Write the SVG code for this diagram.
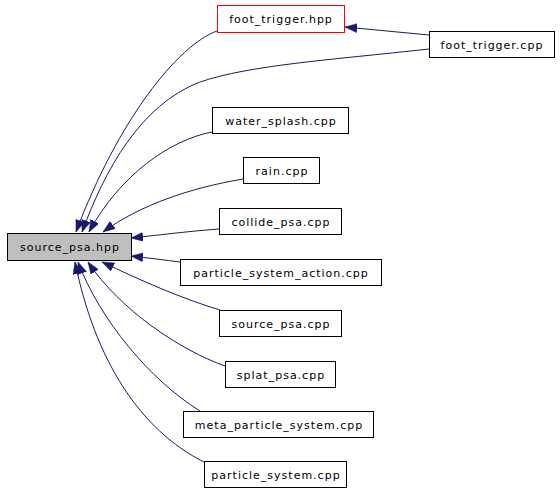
<svg xmlns="http://www.w3.org/2000/svg" width="560" height="493" viewBox="0 0 560 493">
<style>
.n rect{fill:#fff;stroke:#000;stroke-width:1}
.n text{font-family:"DejaVu Sans",sans-serif;font-size:11px;letter-spacing:1px;text-anchor:middle;fill:#000}
.e path{fill:none;stroke:#191970;stroke-width:1}
</style>
<defs>
<marker id="ah" markerUnits="userSpaceOnUse" markerWidth="13" markerHeight="10" refX="12" refY="4.5" orient="auto">
<path d="M0,0 L12,4.5 L0,9 z" fill="#191970" stroke="#191970" stroke-width="0.5"/>
</marker>
</defs>
<rect width="560" height="493" fill="#fff"/>
<g id="edges" class="e">
<path marker-end="url(#ah)" d="M217,31 C178,45 118,120 76,232"/>
<path marker-end="url(#ah)" d="M429,35 L345,27"/>
<path marker-end="url(#ah)" d="M429,49 C330,60 250,65 200,82 C140,105 105,170 82,232"/>
<path marker-end="url(#ah)" d="M212,132 C170,140 120,175 89,232"/>
<path marker-end="url(#ah)" d="M243,179 C190,188 140,205 103,232"/>
<path marker-end="url(#ah)" d="M219,229 C190,231 160,235 131,238"/>
<path marker-end="url(#ah)" d="M180,262 C165,260 148,258 131,256"/>
<path marker-end="url(#ah)" d="M220,310 C180,298 140,280 102,262"/>
<path marker-end="url(#ah)" d="M225,366 C180,350 120,310 88,262"/>
<path marker-end="url(#ah)" d="M200,411 C150,380 100,320 78,262"/>
<path marker-end="url(#ah)" d="M204,462 C140,430 95,360 75,262"/>
</g>
<g id="source_psa_hpp" class="n"><rect x="7.5" y="233.5" width="124" height="27" style="fill:#bfbfbf"/><text x="70" y="251">source_psa.hpp</text></g>
<g id="foot_trigger_hpp" class="n"><rect x="217.5" y="5.5" width="127" height="27" style="stroke:#ff0000"/><text x="281" y="23">foot_trigger.hpp</text></g>
<g id="foot_trigger_cpp" class="n"><rect x="429.5" y="31.5" width="125" height="26"/><text x="492" y="49">foot_trigger.cpp</text></g>
<g id="water_splash_cpp" class="n"><rect x="212.5" y="107.5" width="136" height="26"/><text x="281" y="125">water_splash.cpp</text></g>
<g id="rain_cpp" class="n"><rect x="243.5" y="157.5" width="76" height="26"/><text x="282" y="175">rain.cpp</text></g>
<g id="collide_psa_cpp" class="n"><rect x="219.5" y="208.5" width="122" height="26"/><text x="281" y="226">collide_psa.cpp</text></g>
<g id="particle_system_action_cpp" class="n"><rect x="180.5" y="259.5" width="201" height="26"/><text x="281" y="277">particle_system_action.cpp</text></g>
<g id="source_psa_cpp" class="n"><rect x="219.5" y="310.5" width="122" height="26"/><text x="281" y="328">source_psa.cpp</text></g>
<g id="splat_psa_cpp" class="n"><rect x="225.5" y="361.5" width="110" height="26"/><text x="281" y="379">splat_psa.cpp</text></g>
<g id="meta_particle_system_cpp" class="n"><rect x="183.5" y="411.5" width="190" height="26"/><text x="279" y="429">meta_particle_system.cpp</text></g>
<g id="particle_system_cpp" class="n"><rect x="204.5" y="461.5" width="142" height="26"/><text x="276" y="479">particle_system.cpp</text></g>
</svg>
